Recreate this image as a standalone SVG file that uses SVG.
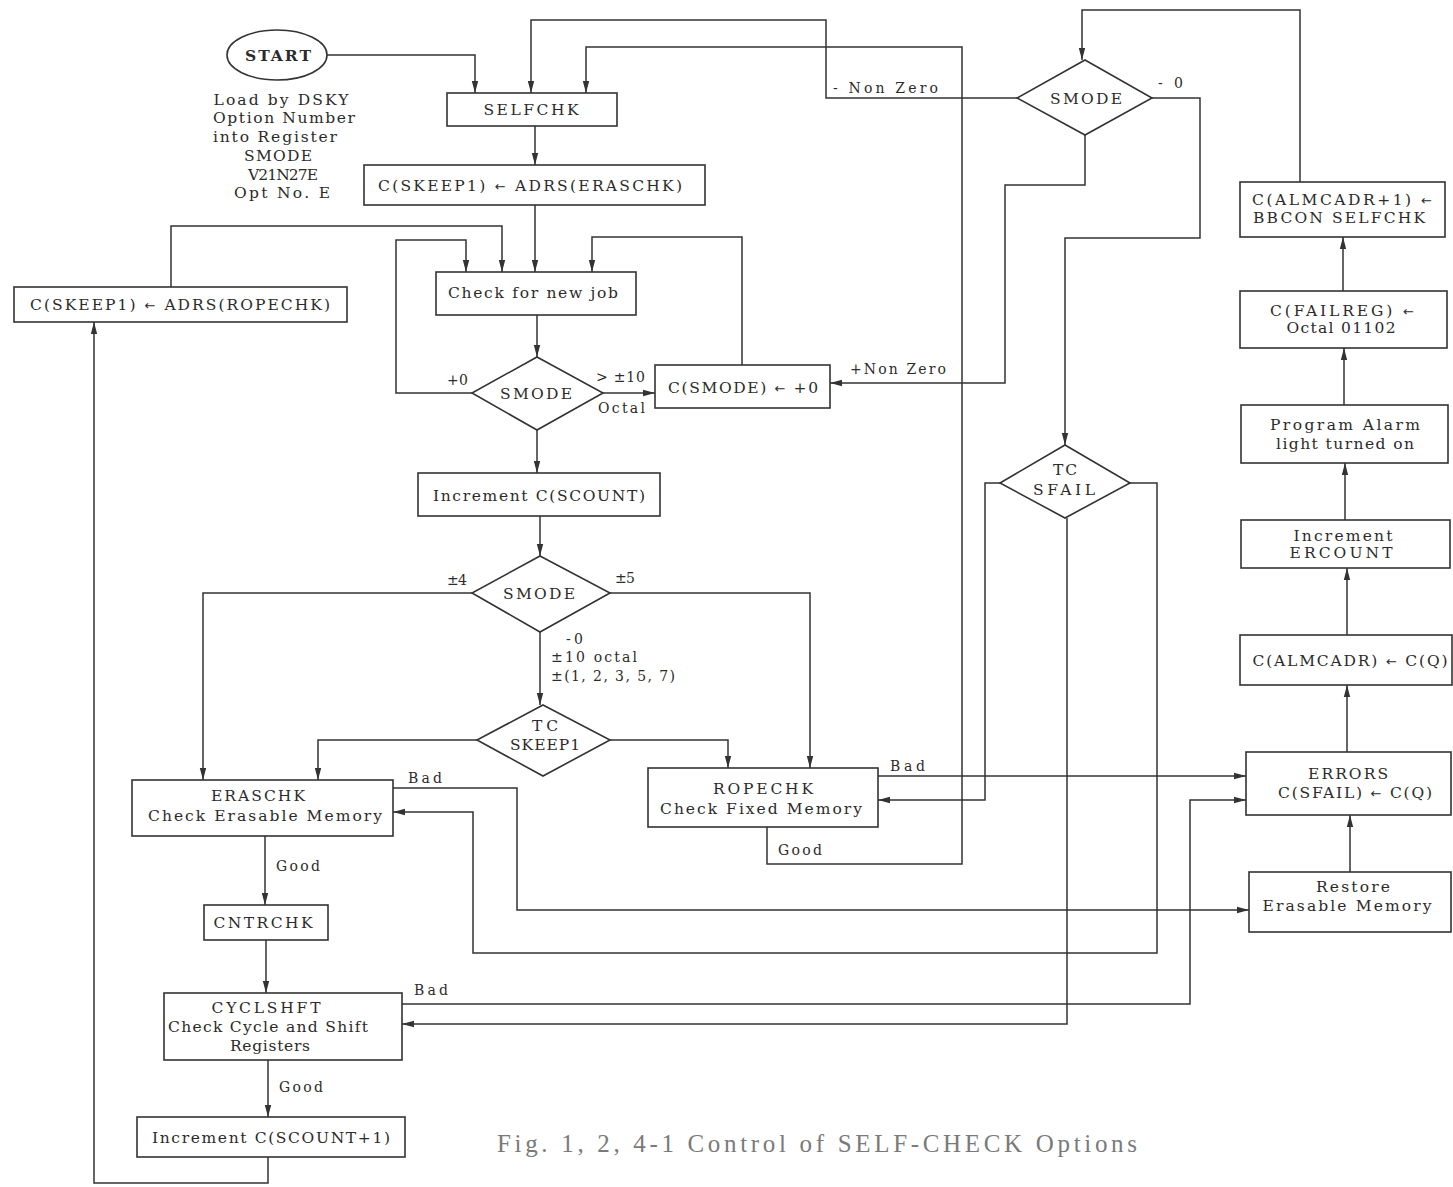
<svg xmlns="http://www.w3.org/2000/svg" width="1453" height="1187" viewBox="0 0 1453 1187">
  <style>
    .box { fill: #fff; stroke: #333; stroke-width: 1.6; }
    .wire { fill: none; stroke: #333; stroke-width: 1.5; }
    .arrow { marker-end: url(#head); }
    text { font-family: "DejaVu Serif", "Liberation Serif", serif; fill: #2b2b2b; font-size: 15.5px; }
    .c { text-anchor: middle; }
    .lbl { font-size: 14px; }
    .cap { font-family: "Liberation Serif", serif; font-size: 25px; fill: #7a7a7a; }
    .ar { font-family: "DejaVu Sans", sans-serif; font-size: 13px; }
  </style>
  <defs>
    <marker id="head" markerUnits="userSpaceOnUse" markerWidth="13" markerHeight="8" refX="12" refY="4" orient="auto">
      <path d="M0,0.8 L12,4 L0,7.2 z" fill="#333"/>
    </marker>
  </defs>
  <rect width="1453" height="1187" fill="#fff"/>

  <!-- connectors -->
  <g id="connectors">
    <path class="wire arrow" d="M327,55 H475 V93"/>
    <path class="wire arrow" d="M1017,98 H826 V20 H531 V93"/>
    <path class="wire arrow" d="M767,827 V864 H962 V47 H586 V93"/>
    <path class="wire arrow" d="M535,126 V165"/>
    <path class="wire arrow" d="M535,205 V272"/>
    <path class="wire arrow" d="M171,287 V226 H502 V272"/>
    <path class="wire arrow" d="M472,393 H396 V240 H466 V272"/>
    <path class="wire arrow" d="M742,365 V237 H592 V272"/>
    <path class="wire arrow" d="M537,315 V357"/>
    <path class="wire arrow" d="M603,393 H655"/>
    <path class="wire arrow" d="M537,430 V473"/>
    <path class="wire arrow" d="M540,516 V556"/>
    <path class="wire arrow" d="M472,593 H203 V780"/>
    <path class="wire arrow" d="M610,593 H810 V768"/>
    <path class="wire arrow" d="M540,632 V705"/>
    <path class="wire arrow" d="M477,740 H318 V780"/>
    <path class="wire arrow" d="M610,740 H728 V768"/>
    <path class="wire arrow" d="M393,788 H517 V910 H1249"/>
    <path class="wire arrow" d="M1130,483 H1157 V953 H473 V812 H393"/>
    <path class="wire arrow" d="M265,836 V905"/>
    <path class="wire arrow" d="M266,940 V993"/>
    <path class="wire arrow" d="M402,1004 H1190 V800 H1246"/>
    <path class="wire arrow" d="M1067,518 V1024 H402"/>
    <path class="wire arrow" d="M268,1060 V1117"/>
    <path class="wire arrow" d="M268,1157 V1183 H94 V322"/>
    <path class="wire arrow" d="M878,776 H1246"/>
    <path class="wire arrow" d="M1000,483 H985 V800 H878"/>
    <path class="wire arrow" d="M1085,135 V185 H1005 V383 H830"/>
    <path class="wire arrow" d="M1152,98 H1200 V238 H1065 V445"/>
    <path class="wire arrow" d="M1300,182 V10 H1082 V60"/>
    <path class="wire arrow" d="M1350,872 V815"/>
    <path class="wire arrow" d="M1347,752 V685"/>
    <path class="wire arrow" d="M1347,635 V568"/>
    <path class="wire arrow" d="M1345,520 V463"/>
    <path class="wire arrow" d="M1344,405 V348"/>
    <path class="wire arrow" d="M1343,291 V237"/>

    <!-- branch labels -->
    <text class="lbl" x="833" y="93" textLength="105" lengthAdjust="spacing">- Non Zero</text>
    <text class="lbl" x="1158" y="88" textLength="25" lengthAdjust="spacing">- 0</text>
    <text class="lbl" x="850" y="374" textLength="96" lengthAdjust="spacing">+Non Zero</text>
    <text class="lbl" x="447" y="385" textLength="21" lengthAdjust="spacing">+0</text>
    <text class="lbl" x="596" y="382" textLength="49" lengthAdjust="spacing">&gt; ±10</text>
    <text class="lbl" x="598" y="413" textLength="47" lengthAdjust="spacing">Octal</text>
    <text class="lbl" x="447" y="585" textLength="20" lengthAdjust="spacing">±4</text>
    <text class="lbl" x="615" y="583" textLength="20" lengthAdjust="spacing">±5</text>
    <text class="lbl" x="566" y="644" textLength="17" lengthAdjust="spacing">- 0</text>
    <text class="lbl" x="551" y="662" textLength="86" lengthAdjust="spacing">±10 octal</text>
    <text class="lbl" x="551" y="681" textLength="124" lengthAdjust="spacing">±(1, 2, 3, 5, 7)</text>
    <text class="lbl" x="408" y="783" textLength="34" lengthAdjust="spacing">Bad</text>
    <text class="lbl" x="276" y="871" textLength="44" lengthAdjust="spacing">Good</text>
    <text class="lbl" x="890" y="771" textLength="35" lengthAdjust="spacing">Bad</text>
    <text class="lbl" x="778" y="855" textLength="44" lengthAdjust="spacing">Good</text>
    <text class="lbl" x="414" y="995" textLength="34" lengthAdjust="spacing">Bad</text>
    <text class="lbl" x="279" y="1092" textLength="44" lengthAdjust="spacing">Good</text>
  </g>

  <!-- nodes -->
  <g id="start">
    <ellipse class="box" cx="277" cy="55" rx="50" ry="25"/>
    <text class="c" x="278" y="61" font-weight="bold" textLength="66" lengthAdjust="spacing">START</text>
  </g>
  <g id="start-note">
    <text class="c" x="281" y="105" textLength="135" lengthAdjust="spacing">Load by DSKY</text>
    <text class="c" x="284" y="123" textLength="142" lengthAdjust="spacing">Option Number</text>
    <text class="c" x="275" y="142" textLength="124" lengthAdjust="spacing">into Register</text>
    <text class="c" x="278" y="161" textLength="68" lengthAdjust="spacing">SMODE</text>
    <text class="c" x="283" y="180" textLength="70" lengthAdjust="spacing">V21N27E</text>
    <text class="c" x="282" y="198" textLength="96" lengthAdjust="spacing">Opt No. E</text>
  </g>
  <g id="selfchk">
    <rect class="box" x="447" y="93" width="170" height="33"/>
    <text class="c" x="531" y="115" textLength="95" lengthAdjust="spacing">SELFCHK</text>
  </g>
  <g id="set-eraschk">
    <rect class="box" x="364" y="165" width="341" height="40"/>
    <text class="c" x="530" y="191" textLength="304" lengthAdjust="spacing">C(SKEEP1) <tspan class="ar">←</tspan> ADRS(ERASCHK)</text>
  </g>
  <g id="set-ropechk">
    <rect class="box" x="14" y="287" width="333" height="35"/>
    <text class="c" x="180" y="310" textLength="300" lengthAdjust="spacing">C(SKEEP1) <tspan class="ar">←</tspan> ADRS(ROPECHK)</text>
  </g>
  <g id="check-new-job">
    <rect class="box" x="436" y="272" width="200" height="43"/>
    <text class="c" x="533" y="298" textLength="170" lengthAdjust="spacing">Check for new job</text>
  </g>
  <g id="smode-a">
    <polygon class="box" points="537,357 603,393 537,430 472,393"/>
    <text class="c" x="536" y="399" textLength="72" lengthAdjust="spacing">SMODE</text>
  </g>
  <g id="clear-smode">
    <rect class="box" x="655" y="365" width="175" height="43"/>
    <text class="c" x="743" y="393" textLength="150" lengthAdjust="spacing">C(SMODE) <tspan class="ar">←</tspan> +0</text>
  </g>
  <g id="inc-scount">
    <rect class="box" x="418" y="473" width="242" height="43"/>
    <text class="c" x="539" y="501" textLength="212" lengthAdjust="spacing">Increment C(SCOUNT)</text>
  </g>
  <g id="smode-b">
    <polygon class="box" points="540,556 610,593 540,632 472,593"/>
    <text class="c" x="539" y="599" textLength="72" lengthAdjust="spacing">SMODE</text>
  </g>
  <g id="tc-skeep1">
    <polygon class="box" points="543,705 610,740 543,776 477,740"/>
    <text class="c" x="545" y="731" textLength="26" lengthAdjust="spacing">TC</text>
    <text class="c" x="545" y="750" textLength="70" lengthAdjust="spacing">SKEEP1</text>
  </g>
  <g id="eraschk">
    <rect class="box" x="132" y="780" width="261" height="56"/>
    <text class="c" x="258" y="801" textLength="94" lengthAdjust="spacing">ERASCHK</text>
    <text class="c" x="265" y="821" textLength="234" lengthAdjust="spacing">Check Erasable Memory</text>
  </g>
  <g id="ropechk">
    <rect class="box" x="648" y="768" width="230" height="59"/>
    <text class="c" x="763" y="794" textLength="100" lengthAdjust="spacing">ROPECHK</text>
    <text class="c" x="761" y="814" textLength="202" lengthAdjust="spacing">Check Fixed Memory</text>
  </g>
  <g id="cntrchk">
    <rect class="box" x="204" y="905" width="124" height="35"/>
    <text class="c" x="263" y="928" textLength="99" lengthAdjust="spacing">CNTRCHK</text>
  </g>
  <g id="cyclshft">
    <rect class="box" x="164" y="993" width="238" height="67"/>
    <text class="c" x="266" y="1013" textLength="109" lengthAdjust="spacing">CYCLSHFT</text>
    <text class="c" x="268" y="1032" textLength="200" lengthAdjust="spacing">Check Cycle and Shift</text>
    <text class="c" x="270" y="1051" textLength="80" lengthAdjust="spacing">Registers</text>
  </g>
  <g id="inc-scount1">
    <rect class="box" x="137" y="1117" width="268" height="40"/>
    <text class="c" x="271" y="1143" textLength="238" lengthAdjust="spacing">Increment C(SCOUNT+1)</text>
  </g>
  <g id="smode-c">
    <polygon class="box" points="1085,60 1152,98 1085,135 1017,98"/>
    <text class="c" x="1086" y="104" textLength="72" lengthAdjust="spacing">SMODE</text>
  </g>
  <g id="tc-sfail">
    <polygon class="box" points="1065,445 1130,483 1065,518 1000,483"/>
    <text class="c" x="1065" y="475" textLength="24" lengthAdjust="spacing">TC</text>
    <text class="c" x="1064" y="495" textLength="62" lengthAdjust="spacing">SFAIL</text>
  </g>
  <g id="set-almcadr1">
    <rect class="box" x="1240" y="182" width="205" height="55"/>
    <text class="c" x="1342" y="205" textLength="180" lengthAdjust="spacing">C(ALMCADR+1) <tspan class="ar">←</tspan></text>
    <text class="c" x="1339" y="223" textLength="172" lengthAdjust="spacing">BBCON SELFCHK</text>
  </g>
  <g id="set-failreg">
    <rect class="box" x="1240" y="291" width="207" height="57"/>
    <text class="c" x="1342" y="316" textLength="144" lengthAdjust="spacing">C(FAILREG) <tspan class="ar">←</tspan></text>
    <text class="c" x="1341" y="333" textLength="109" lengthAdjust="spacing">Octal 01102</text>
  </g>
  <g id="prog-alarm">
    <rect class="box" x="1241" y="405" width="207" height="58"/>
    <text class="c" x="1345" y="430" textLength="150" lengthAdjust="spacing">Program Alarm</text>
    <text class="c" x="1345" y="449" textLength="138" lengthAdjust="spacing">light turned on</text>
  </g>
  <g id="inc-ercount">
    <rect class="box" x="1241" y="520" width="209" height="48"/>
    <text class="c" x="1343" y="541" textLength="99" lengthAdjust="spacing">Increment</text>
    <text class="c" x="1341" y="558" textLength="103" lengthAdjust="spacing">ERCOUNT</text>
  </g>
  <g id="set-almcadr">
    <rect class="box" x="1240" y="635" width="212" height="50"/>
    <text class="c" x="1350" y="666" textLength="195" lengthAdjust="spacing">C(ALMCADR) <tspan class="ar">←</tspan> C(Q)</text>
  </g>
  <g id="errors">
    <rect class="box" x="1246" y="752" width="205" height="63"/>
    <text class="c" x="1348" y="779" textLength="80" lengthAdjust="spacing">ERRORS</text>
    <text class="c" x="1355" y="798" textLength="154" lengthAdjust="spacing">C(SFAIL) <tspan class="ar">←</tspan> C(Q)</text>
  </g>
  <g id="restore">
    <rect class="box" x="1249" y="872" width="202" height="60"/>
    <text class="c" x="1353" y="892" textLength="74" lengthAdjust="spacing">Restore</text>
    <text class="c" x="1347" y="911" textLength="169" lengthAdjust="spacing">Erasable Memory</text>
  </g>

  <text class="cap" x="497" y="1152" textLength="640" lengthAdjust="spacing">Fig. 1, 2, 4-1  Control of SELF-CHECK Options</text>
</svg>
